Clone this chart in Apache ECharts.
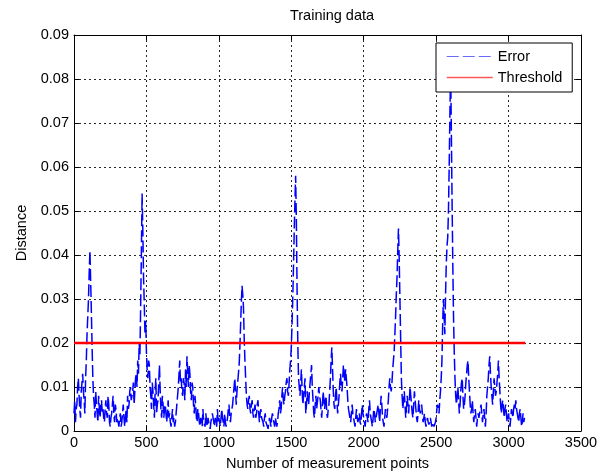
<!DOCTYPE html>
<html>
<head>
<meta charset="utf-8">
<script src="https://cdn.jsdelivr.net/npm/echarts@6/dist/echarts.min.js"></script>
<style>
html,body{margin:0;padding:0;background:#fff;}
#c{width:609px;height:476px;}
</style>
</head>
<body>
<div id="c"></div>
<script>
// ---- data ----
const titleText = 'Training data';
const xAxisName = 'Number of measurement points';
const yAxisName = 'Distance';
const seriesNames = ['Error', 'Threshold'];
const xTicks = [0, 500, 1000, 1500, 2000, 2500, 3000, 3500];
const yTicks = [0, 0.01, 0.02, 0.03, 0.04, 0.05, 0.06, 0.07, 0.08, 0.09];
// measurement point index of each sample (every 5th point)
const sampleSpacing = 5;
// Error distance, one value per 5 measurement points (0 .. 3110), 100 points per row
const errorValues = [
  0.004,0.007,0.002,0.005,0.006,0.010,0.012,0.008,0.005,0.003,0.009,0.011,0.013,0.009,0.007,0.004,0.012,0.016,0.022,0.026,
  0.030,0.036,0.041,0.034,0.027,0.019,0.012,0.008,0.006,0.003,0.009,0.006,0.004,0.002,0.008,0.005,0.003,0.006,0.007,0.004,
  0.005,0.003,0.002,0.005,0.007,0.004,0.003,0.008,0.006,0.002,0.001,0.003,0.004,0.006,0.008,0.004,0.002,0.006,0.005,0.002,
  0.003,0.002,0.001,0.003,0.004,0.001,0.002,0.004,0.006,0.003,0.001,0.003,0.005,0.002,0.008,0.005,0.006,0.009,0.010,0.007,
  0.007,0.009,0.011,0.006,0.009,0.012,0.013,0.010,0.016,0.013,0.020,0.017,0.028,0.040,0.054,0.046,0.035,0.029,0.022,0.025,
  0.018,0.014,0.012,0.016,0.015,0.010,0.008,0.005,0.011,0.009,0.006,0.003,0.009,0.012,0.004,0.006,0.007,0.011,0.015,0.009,
  0.005,0.003,0.008,0.006,0.003,0.005,0.006,0.004,0.002,0.004,0.007,0.003,0.004,0.002,0.001,0.003,0.005,0.002,0.003,0.001,
  0.002,0.004,0.006,0.008,0.010,0.013,0.016,0.011,0.012,0.009,0.008,0.012,0.011,0.007,0.014,0.010,0.017,0.013,0.010,0.015,
  0.013,0.009,0.007,0.011,0.010,0.006,0.004,0.008,0.006,0.003,0.002,0.005,0.004,0.002,0.001,0.003,0.003,0.001,0.005,0.002,
  0.002,0.001,0.004,0.002,0.001,0.003,0.003,0.001,0.0005,0.002,0.002,0.004,0.004,0.002,0.001,0.003,0.003,0.001,0.005,0.002,
  0.003,0.002,0.001,0.003,0.005,0.003,0.002,0.001,0.004,0.002,0.001,0.002,0.003,0.005,0.006,0.003,0.002,0.004,0.004,0.006,
  0.008,0.010,0.012,0.009,0.006,0.009,0.011,0.013,0.015,0.019,0.024,0.029,0.033,0.031,0.028,0.021,0.016,0.012,0.008,0.006,
  0.005,0.007,0.008,0.005,0.004,0.006,0.007,0.004,0.003,0.005,0.006,0.003,0.004,0.006,0.007,0.004,0.002,0.004,0.005,0.003,
  0.003,0.002,0.001,0.003,0.004,0.002,0.002,0.001,0.0005,0.002,0.003,0.002,0.001,0.003,0.004,0.003,0.002,0.001,0.003,0.002,
  0.001,0.002,0.004,0.005,0.007,0.004,0.005,0.008,0.010,0.007,0.006,0.008,0.009,0.011,0.012,0.009,0.008,0.011,0.014,0.016,
  0.019,0.024,0.030,0.037,0.045,0.052,0.058,0.048,0.032,0.020,0.012,0.010,0.008,0.011,0.014,0.009,0.006,0.008,0.010,0.012,
  0.004,0.006,0.009,0.007,0.006,0.009,0.011,0.013,0.015,0.010,0.007,0.004,0.003,0.006,0.008,0.005,0.005,0.008,0.010,0.008,
  0.007,0.005,0.003,0.006,0.009,0.007,0.005,0.007,0.008,0.004,0.003,0.005,0.006,0.009,0.012,0.016,0.019,0.014,0.009,0.006,
  0.005,0.008,0.010,0.007,0.004,0.006,0.008,0.011,0.013,0.010,0.009,0.012,0.015,0.013,0.011,0.014,0.014,0.010,0.007,0.005,
  0.004,0.003,0.002,0.004,0.006,0.004,0.003,0.002,0.001,0.003,0.005,0.003,0.002,0.003,0.004,0.002,0.0015,0.004,0.006,0.004,
  0.003,0.002,0.001,0.003,0.004,0.003,0.002,0.005,0.007,0.004,0.003,0.002,0.001,0.003,0.005,0.004,0.002,0.003,0.004,0.005,
  0.006,0.004,0.002,0.005,0.008,0.006,0.003,0.002,0.001,0.003,0.005,0.004,0.003,0.005,0.007,0.010,0.012,0.010,0.009,0.011,
  0.014,0.016,0.018,0.022,0.026,0.031,0.035,0.041,0.046,0.039,0.030,0.021,0.012,0.008,0.005,0.007,0.009,0.006,0.003,0.005,
  0.008,0.006,0.004,0.007,0.010,0.008,0.006,0.004,0.003,0.006,0.009,0.007,0.005,0.003,0.002,0.004,0.007,0.005,0.004,0.005,
  0.006,0.004,0.002,0.003,0.004,0.002,0.001,0.002,0.003,0.002,0.0015,0.002,0.003,0.002,0.001,0.002,0.002,0.001,0.0015,0.002,
  0.003,0.005,0.006,0.005,0.004,0.007,0.009,0.012,0.016,0.024,0.030,0.026,0.022,0.031,0.038,0.042,0.044,0.050,0.060,0.072,
  0.082,0.068,0.052,0.038,0.026,0.018,0.012,0.008,0.006,0.008,0.010,0.007,0.004,0.006,0.009,0.011,0.012,0.008,0.005,0.006,
  0.008,0.011,0.013,0.015,0.016,0.012,0.009,0.006,0.004,0.005,0.007,0.004,0.002,0.004,0.005,0.003,0.001,0.003,0.004,0.003,
  0.003,0.005,0.006,0.004,0.002,0.004,0.005,0.003,0.001,0.004,0.008,0.010,0.012,0.015,0.017,0.013,0.010,0.008,0.006,0.009,
  0.012,0.010,0.008,0.009,0.011,0.013,0.016,0.012,0.009,0.006,0.004,0.006,0.007,0.005,0.003,0.005,0.006,0.004,0.002,0.003,
  0.004,0.002,0.001,0.003,0.005,0.004,0.003,0.005,0.006,0.005,0.007,0.005,0.004,0.003,0.002,0.004,0.005,0.003,0.001,0.002,
  0.004,0.002,0.003
];
const thresholdValue = 0.02;
const thresholdRange = [0, 3115];

const errorData = errorValues.map((v, i) => [i * sampleSpacing, v]);
const thresholdData = thresholdRange.map(x => [x, thresholdValue]);

const font = 'Liberation Sans, Arial, Helvetica, sans-serif';
const fs = 14.5;
const gridLine = { show: true, lineStyle: { color: '#000', type: [2, 3], width: 1, opacity: 0.85 } };

const chart = echarts.init(document.getElementById('c'), null, { renderer: 'canvas' });
chart.setOption({
  animation: false,
  backgroundColor: '#fff',
  title: {
    text: titleText, left: 327, top: 3, textAlign: 'center',
    textStyle: { fontFamily: font, fontSize: fs, fontWeight: 'normal', color: '#000' }
  },
  grid: { left: 74, right: 28, top: 35, bottom: 42 },
  legend: {
    left: 436, top: 43, orient: 'vertical',
    backgroundColor: '#fff', borderColor: '#000', borderWidth: 1, borderRadius: 0,
    padding: [6, 10, 7, 10], itemGap: 6, itemWidth: 46, itemHeight: 16,
    textStyle: { fontFamily: font, fontSize: fs, color: '#000', padding: [0, 0, 0, 0] },
    data: [
      { name: seriesNames[0], itemStyle: { opacity: 0 }, lineStyle: { width: 1.2, color: '#6a6aff' } },
      { name: seriesNames[1], itemStyle: { opacity: 0 }, lineStyle: { width: 1.5, color: '#ff5a5a' } }
    ]
  },
  xAxis: [{
    type: 'value', min: xTicks[0], max: xTicks[xTicks.length - 1], interval: 500,
    name: xAxisName, nameLocation: 'middle', nameGap: 25,
    nameTextStyle: { fontFamily: font, fontSize: fs, color: '#000' },
    axisLine: { show: true, onZero: false, lineStyle: { color: '#000', width: 1 } },
    axisTick: { show: true, inside: true, length: 5, lineStyle: { color: '#000' } },
    axisLabel: { fontFamily: font, fontSize: fs, color: '#000', margin: 4, formatter: v => String(v) },
    splitLine: gridLine
  }, {
    type: 'value', position: 'top', min: xTicks[0], max: xTicks[xTicks.length - 1], interval: 500,
    axisLine: { show: true, onZero: false, lineStyle: { color: '#000', width: 1 } },
    axisTick: { show: true, inside: true, length: 5, lineStyle: { color: '#000' } },
    axisLabel: { show: false }, splitLine: { show: false }
  }],
  yAxis: [{
    type: 'value', min: yTicks[0], max: yTicks[yTicks.length - 1], interval: 0.01,
    name: yAxisName, nameLocation: 'middle', nameGap: 44, nameRotate: 90,
    nameTextStyle: { fontFamily: font, fontSize: fs, color: '#000' },
    axisLine: { show: true, onZero: false, lineStyle: { color: '#000', width: 1 } },
    axisTick: { show: true, inside: true, length: 5, lineStyle: { color: '#000' } },
    axisLabel: { fontFamily: font, fontSize: fs, color: '#000', margin: 5,
      formatter: v => String(Math.round(v * 100) / 100) },
    splitLine: gridLine
  }, {
    type: 'value', position: 'right', min: yTicks[0], max: yTicks[yTicks.length - 1], interval: 0.01,
    axisLine: { show: true, onZero: false, lineStyle: { color: '#000', width: 1 } },
    axisTick: { show: true, inside: true, length: 5, lineStyle: { color: '#000' } },
    axisLabel: { show: false }, splitLine: { show: false }
  }],
  series: [{
    name: seriesNames[0], type: 'line', data: errorData, symbol: 'none',
    lineStyle: { color: '#0000ff', width: 1.5, type: [12, 4] },
    itemStyle: { color: '#0000ff' }, z: 2
  }, {
    name: seriesNames[1], type: 'line', data: thresholdData, symbol: 'none',
    lineStyle: { color: '#ff0000', width: 2.5 },
    itemStyle: { color: '#ff0000' }, z: 3
  }]
});
</script>
</body>
</html>
